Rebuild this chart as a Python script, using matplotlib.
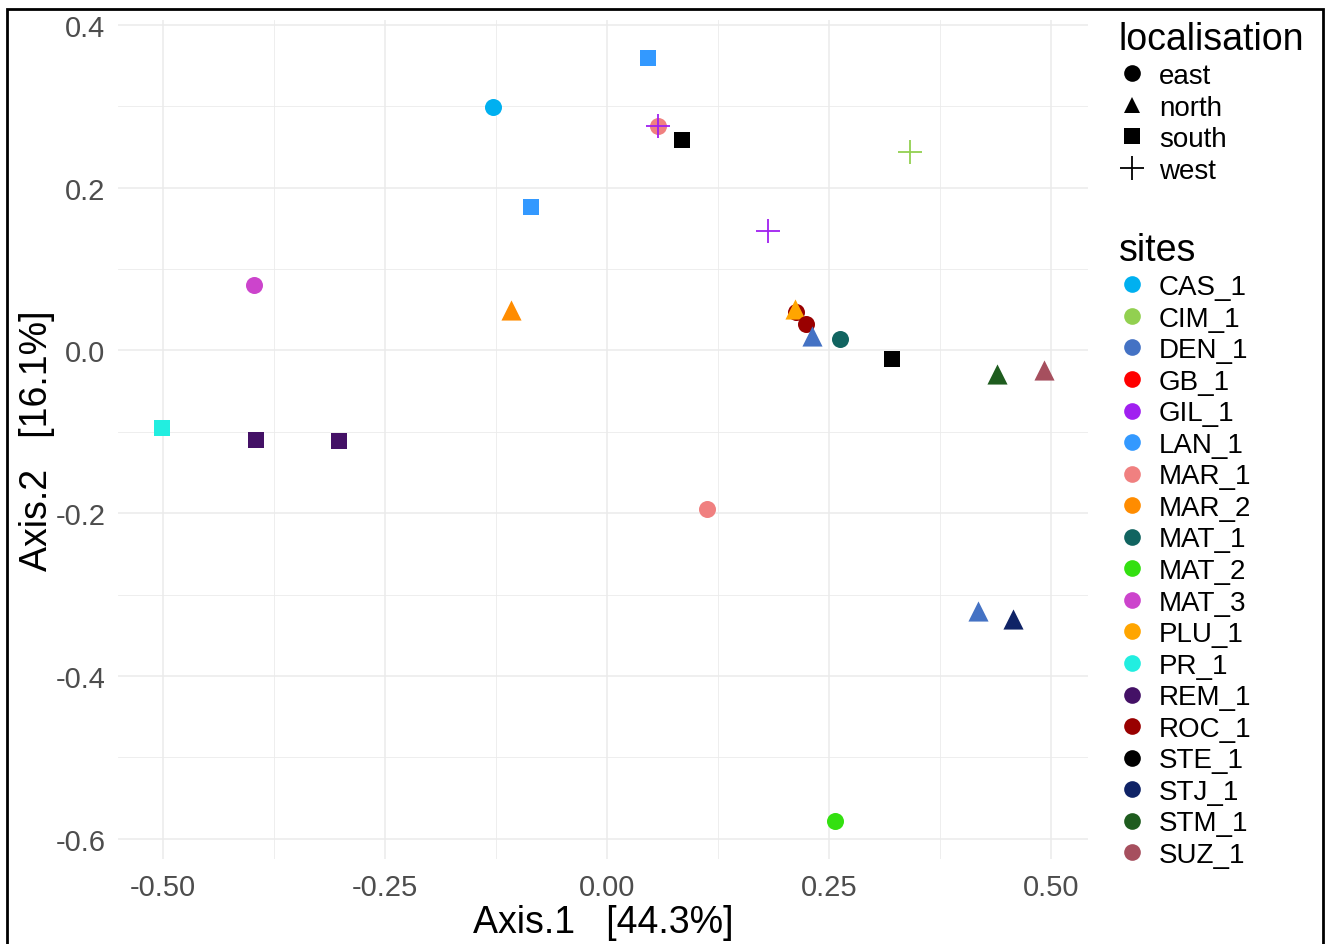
import matplotlib.pyplot as plt
from matplotlib.lines import Line2D
from matplotlib.patches import Rectangle

plt.rcParams['font.family'] = ['Liberation Sans', 'DejaVu Sans']

# ordination coordinates, one entry per sample
axis1 = [-0.128, 0.046, -0.086, 0.058, 0.058, 0.085, 0.341, 0.181, -0.398,
         -0.108, 0.213, 0.212, 0.224, 0.231, 0.262, 0.321, 0.440, 0.492,
         -0.501, -0.396, -0.302, 0.113, 0.418, 0.457, 0.257]
axis2 = [0.299, 0.359, 0.176, 0.276, 0.276, 0.259, 0.244, 0.147, 0.080,
         0.050, 0.047, 0.051, 0.032, 0.018, 0.014, -0.010, -0.029, -0.024,
         -0.095, -0.110, -0.111, -0.195, -0.320, -0.330, -0.578]
sample_site = ['CAS_1', 'LAN_1', 'LAN_1', 'MAR_1', 'GIL_1', 'STE_1', 'CIM_1',
               'GIL_1', 'MAT_3', 'MAR_2', 'ROC_1', 'PLU_1', 'ROC_1', 'DEN_1',
               'MAT_1', 'STE_1', 'STM_1', 'SUZ_1', 'PR_1', 'REM_1', 'REM_1',
               'MAR_1', 'DEN_1', 'STJ_1', 'MAT_2']
sample_loc = ['east', 'south', 'south', 'east', 'west', 'south', 'west',
              'west', 'east', 'north', 'east', 'north', 'east', 'north',
              'east', 'south', 'north', 'north', 'south', 'south', 'south',
              'east', 'north', 'north', 'east']

sites = ['CAS_1', 'CIM_1', 'DEN_1', 'GB_1', 'GIL_1', 'LAN_1', 'MAR_1', 'MAR_2',
         'MAT_1', 'MAT_2', 'MAT_3', 'PLU_1', 'PR_1', 'REM_1', 'ROC_1', 'STE_1',
         'STJ_1', 'STM_1', 'SUZ_1']
site_colors = ['#00B0F0', '#92D050', '#4472C4', '#FF0000', '#A020F0', '#3399FF',
               '#F08080', '#FF8C00', '#116460', '#33E010', '#CC44CC', '#FFA500',
               '#22EEE0', '#441166', '#990000', '#000000', '#0F2366', '#1E5C1E',
               '#A64F5E']
localisations = ['east', 'north', 'south', 'west']
loc_markers = ['o', '^', 's', '+']
loc_sizes = [150, 210, 144, 300]

col = dict(zip(sites, site_colors))
mk = dict(zip(localisations, loc_markers))
sz = dict(zip(localisations, loc_sizes))

fig = plt.figure(figsize=(13.26, 9.45), dpi=100)
ax = fig.add_axes([118 / 1326, 1 - 860 / 945, 970 / 1326, 839 / 945])

for x, y, s, l in zip(axis1, axis2, sample_site, sample_loc):
    if mk[l] == '+':
        ax.scatter(x, y, marker='+', s=sz[l], color=col[s], linewidths=1.3, zorder=3)
    else:
        ax.scatter(x, y, marker=mk[l], s=sz[l], color=col[s], linewidths=0, zorder=3)

ax.set_xlim(-0.551, 0.542)
ax.set_ylim(-0.625, 0.406)
ax.set_xticks([-0.5, -0.25, 0, 0.25, 0.5])
ax.set_xticklabels(['-0.50', '-0.25', '0.00', '0.25', '0.50'])
ax.set_yticks([-0.6, -0.4, -0.2, 0.0, 0.2, 0.4])
ax.set_yticklabels(['-0.6', '-0.4', '-0.2', '0.0', '0.2', '0.4'])
ax.set_xticks([-0.375, -0.125, 0.125, 0.375], minor=True)
ax.set_yticks([-0.5, -0.3, -0.1, 0.1, 0.3], minor=True)
ax.grid(True, which='major', color='#EBEBEB', linewidth=1.1)
ax.grid(True, which='minor', color='#EBEBEB', linewidth=0.6)
ax.set_axisbelow(True)
ax.tick_params(which='both', length=0, labelsize=21, labelcolor='#4D4D4D')
ax.tick_params(axis='x', pad=10)
ax.tick_params(axis='y', pad=9)
for sp in ax.spines.values():
    sp.set_visible(False)

ax.set_xlabel('Axis.1   [44.3%]', fontsize=27, labelpad=2)
ax.set_ylabel('Axis.2   [16.1%]', fontsize=27, labelpad=0)

loc_handles = []
for l, m in zip(localisations, loc_markers):
    if m == '+':
        loc_handles.append(Line2D([], [], marker='+', linestyle='none', color='black',
                                  markersize=17, markeredgewidth=1.3))
    else:
        loc_handles.append(Line2D([], [], marker=m, linestyle='none', color='black',
                                  markersize=12, markeredgewidth=0))
leg1 = fig.legend(loc_handles, localisations, title='localisation',
                  loc='upper left', bbox_to_anchor=(1099 / 1326, 1 - 3 / 945),
                  frameon=False, fontsize=20, title_fontsize=27,
                  handlelength=1.0, handletextpad=0.45, labelspacing=0.2,
                  borderpad=0.2, alignment='left')

site_handles = [Line2D([], [], marker='o', linestyle='none', color=c,
                       markersize=12, markeredgewidth=0) for c in site_colors]
leg2 = fig.legend(site_handles, sites, title='sites',
                  loc='upper left', bbox_to_anchor=(1099 / 1326, 1 - 214 / 945),
                  frameon=False, fontsize=20, title_fontsize=27,
                  handlelength=1.0, handletextpad=0.45, labelspacing=0.2,
                  borderpad=0.2, alignment='left')

fig.patches.append(Rectangle((7 / 1326, -0.02), 1316 / 1326, 1.02 - 10 / 945,
                             transform=fig.transFigure, fill=False,
                             edgecolor='black', linewidth=2))

fig.savefig('out.png', dpi=100)
plt.close(fig)
